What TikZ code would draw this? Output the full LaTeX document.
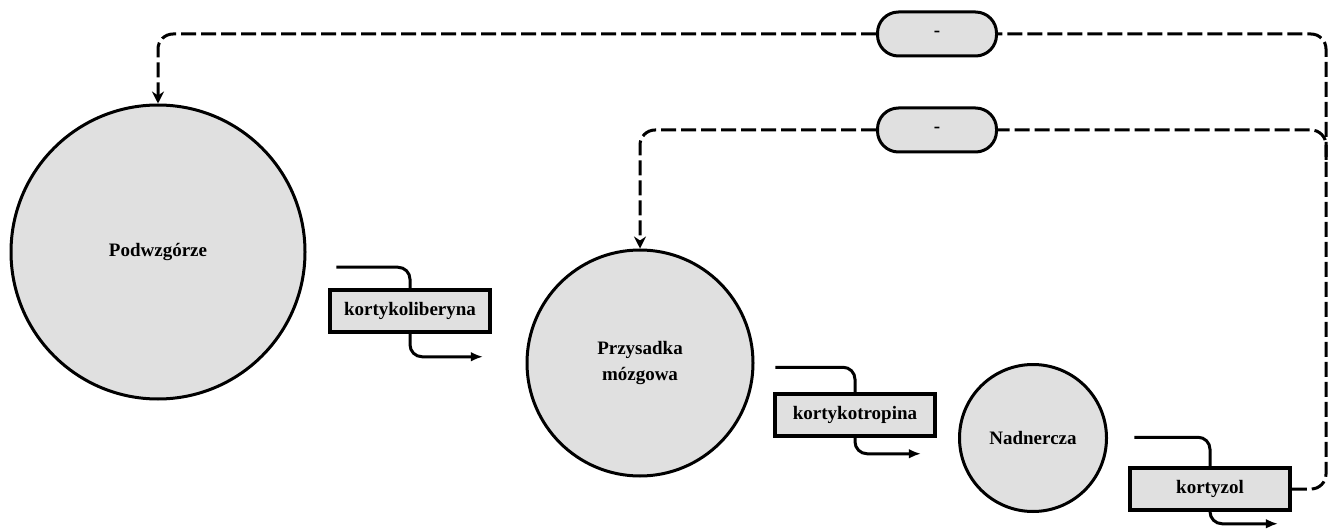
\documentclass[tikz,border=0pt]{standalone}
\usepackage{fontspec}
\setmainfont{Liberation Serif}
\usetikzlibrary{arrows.meta}
\definecolor{fillgray}{HTML}{E0E0E0}
\begin{document}
\begin{tikzpicture}[x=1pt,y=-1pt,
  lbl/.style={font=\bfseries\fontsize{19}{26}\selectfont},
  organ/.style={circle, draw, line width=3pt, fill=fillgray, inner sep=0pt, lbl, align=center},
  hormone/.style={rectangle, draw, line width=3.5pt, fill=fillgray, minimum width=160pt, minimum height=42pt, inner sep=0pt, lbl},
  inhib/.style={rectangle, rounded corners=21pt, draw, line width=3pt, fill=fillgray, minimum width=119pt, minimum height=44pt, inner sep=0pt, lbl},
  inflow/.style={line width=3pt, rounded corners=12pt},
  flow/.style={line width=3pt, rounded corners=12pt, -{Latex[length=12pt,width=10pt]}},
  feedback/.style={line width=3pt, dash pattern=on 15pt off 5pt, rounded corners=15pt},
  fbarrow/.style={-{Stealth[length=12pt,width=12pt,inset=4pt]}}
]
\useasboundingbox (0,0) rectangle (1330,529);

% organs
\node[organ, minimum size=294pt] (hyp) at (158,252) {Podwzgórze};
\node[organ, minimum size=226pt] (pit) at (640,363) {Przysadka\\mózgowa};
\node[organ, minimum size=147pt] (adr) at (1033,438) {Nadnercza};

% hormones
\node[hormone] (crh) at (410,311) {kortykoliberyna};
\node[hormone] (acth) at (855,415) {kortykotropina};
\node[hormone] (cort) at (1210,489) {kortyzol};

% inhibition markers
\node[inhib] (m1) at (937,34) {-};
\node[inhib] (m2) at (937,130) {-};

% flow arrows through hormone boxes
\coordinate (crh-in) at ([xshift=8pt,yshift=21pt]crh.north west);
\coordinate (crh-out) at ([xshift=-9pt,yshift=-23pt]crh.south east);
\coordinate (acth-in) at ([xshift=2pt,yshift=25pt]acth.north west);
\coordinate (acth-out) at ([xshift=-16pt,yshift=-16pt]acth.south east);
\coordinate (cort-in) at ([xshift=6pt,yshift=29pt]cort.north west);
\coordinate (cort-out) at ([xshift=-14pt,yshift=-12pt]cort.south east);
\foreach \b in {crh,acth,cort}{
  \draw[inflow] (\b-in) -| (\b.north);
  \draw[flow] (\b.south) |- (\b-out);
}

% feedback loops
\coordinate (tr) at (1326,34);
\coordinate (j2) at (1326,160);
\draw[feedback] (cort.east) -| (tr) -- (m1.east);
\draw[feedback, fbarrow] (m1.west) -| (hyp.north);
\draw[feedback] (j2) |- (m2.east);
\draw[feedback, fbarrow] (m2.west) -| (pit.north);
\end{tikzpicture}
\end{document}
